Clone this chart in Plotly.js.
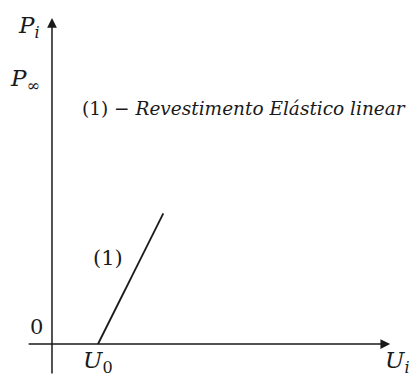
<!DOCTYPE html>
<html>
<head>
<meta charset="utf-8">
<script src="https://cdn.plot.ly/plotly-3.0.1.min.js"></script>
<style>
  html, body { margin: 0; padding: 0; background: #fff; }
  #chart { width: 415px; height: 378px; }
</style>
</head>
<body>
<div id="chart"></div>
<script>
// Linear elastic lining: pressure P_i against displacement U_i
const curveU = [1, 2.42];      // U_0 .. upper end of the line
const curveP = [0, 1.98];      // pressure values along the line
const pInf = 4;                // P_infinity level
const uAxisEnd = 7.35;         // length of the U_i axis
const pAxisEnd = 4.94;         // length of the P_i axis
const uAxisStart = -0.54;
const pAxisStart = -0.47;

const serif = 'DejaVu Serif, Liberation Serif, serif';
const ink = '#1a1a1a';

const trace = {
  x: curveU,
  y: curveP,
  mode: 'lines',
  line: { color: ink, width: 1.8 },
  hoverinfo: 'skip'
};

function label(x, y, text, size, extra) {
  return Object.assign({
    x: x, y: y, xref: 'x', yref: 'y', text: text, showarrow: false,
    font: { family: serif, size: size, color: ink }
  }, extra || {});
}

const annotations = [
  // U_i axis
  { x: uAxisEnd, y: 0, ax: uAxisStart, ay: 0, xref: 'x', yref: 'y', axref: 'x', ayref: 'y',
    showarrow: true, arrowhead: 2, arrowsize: 1.3, arrowwidth: 1.5, arrowcolor: ink, text: '' },
  // P_i axis
  { x: 0, y: pAxisEnd, ax: 0, ay: pAxisStart, xref: 'x', yref: 'y', axref: 'x', ayref: 'y',
    showarrow: true, arrowhead: 2, arrowsize: 1.3, arrowwidth: 1.5, arrowcolor: ink, text: '' },
  label(-0.5, 4.8, '<i>P<sub>i</sub></i>', 23),
  label(-0.58, pInf, '<i>P</i><sub>∞</sub>', 23),
  label(-0.33, 0.26, '0', 21),
  label(curveU[0], -0.27, '<i>U</i><sub>0</sub>', 23),
  label(7.5, -0.27, '<i>U<sub>i</sub></i>', 23),
  label(1.22, 1.3, '(1)', 21),
  label(0.6, 3.57, '(1) − <i>Revestimento Elástico linear</i>', 18.5,
        { xanchor: 'left' })
];

const layout = {
  width: 415,
  height: 378,
  margin: { l: 0, r: 0, t: 0, b: 0 },
  paper_bgcolor: '#ffffff',
  plot_bgcolor: '#ffffff',
  showlegend: false,
  xaxis: { range: [-1.13, 7.89], visible: false, fixedrange: true },
  yaxis: { range: [-0.515, 5.212], visible: false, fixedrange: true },
  annotations: annotations
};

Plotly.newPlot('chart', [trace], layout, { displayModeBar: false, staticPlot: true });
</script>
</body>
</html>
